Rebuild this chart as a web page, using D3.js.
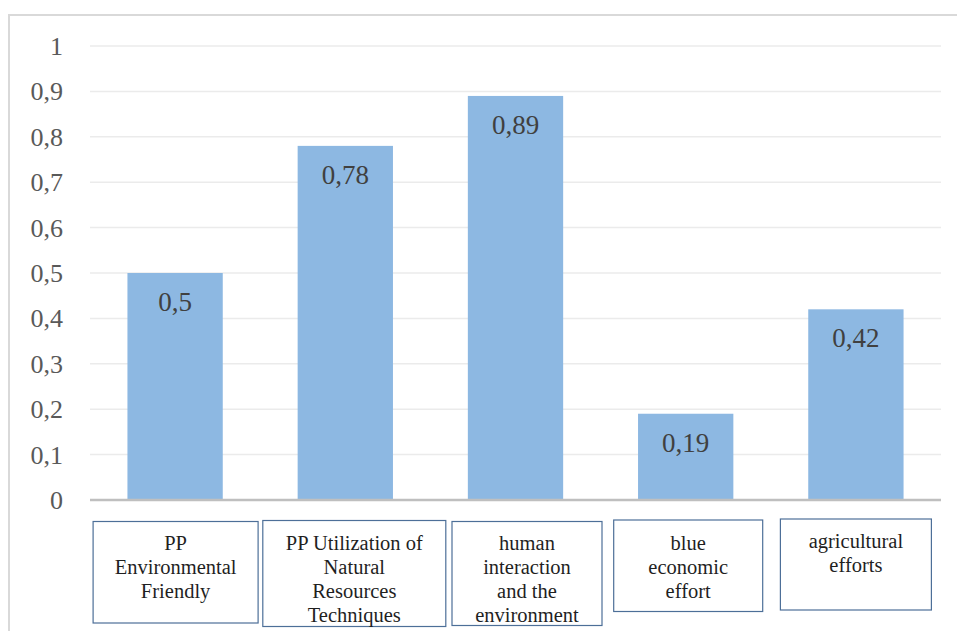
<!DOCTYPE html>
<html>
<head>
<meta charset="utf-8">
<script src="https://cdn.jsdelivr.net/npm/d3@7"></script>
<style>
  html, body { margin: 0; padding: 0; background: #fff; }
  svg { display: block; }
  svg text { font-family: "Liberation Serif", "Times New Roman", serif; }
</style>
</head>
<body>
<svg id="chart" width="957" height="631"></svg>
<script>
// Scores per indicator
const categories = [
  "PP Environmental Friendly",
  "PP Utilization of Natural Resources Techniques",
  "human interaction and the environment",
  "blue economic effort",
  "agricultural efforts"
];
const values = [0.5, 0.78, 0.89, 0.19, 0.42];
const yTicks = [0, 0.1, 0.2, 0.3, 0.4, 0.5, 0.6, 0.7, 0.8, 0.9, 1];

// Text shown in the boxed category captions, line by line
const captionLines = [
  ["PP", "Environmental", "Friendly"],
  ["PP Utilization of", "Natural", "Resources", "Techniques"],
  ["human", "interaction", "and the", "environment"],
  ["blue", "economic", "effort"],
  ["agricultural", "efforts"]
];

// Caption box geometry relative to each band centre (layout only)
const captionBoxes = [
  { dx: 0.5,  w: 165, top: 521.5, h: 101.5 },
  { dx: 9,    w: 183, top: 520.5, h: 106 },
  { dx: 11.5, w: 150, top: 521.5, h: 104 },
  { dx: 2.5,  w: 149, top: 520,   h: 91.5 },
  { dx: 0,    w: 151, top: 519,   h: 91 }
];

const svg = d3.select("#chart");
const margin = { left: 90, right: 16, top: 46, bottom: 131 };
const W = 957, H = 631;
const serif = "'Liberation Serif', 'Times New Roman', serif";
const fmt = v => String(v).replace(".", ",");

// Outer chart frame (light grey, runs off the right/bottom edges)
svg.append("path")
  .attr("d", `M9,${H + 5} L9,15 L${W + 5},15`)
  .attr("fill", "none")
  .attr("stroke", "#d9d9d9")
  .attr("stroke-width", 2);

const x = d3.scaleBand()
  .domain(categories)
  .range([margin.left, W - margin.right])
  .paddingInner(0.44)
  .paddingOuter(0.22);

const y = d3.scaleLinear()
  .domain([0, 1])
  .range([H - margin.bottom, margin.top]);

// Gridlines
svg.append("g")
  .selectAll("line")
  .data(yTicks.filter(t => t > 0))
  .join("line")
  .attr("x1", margin.left)
  .attr("x2", W - margin.right)
  .attr("y1", d => y(d))
  .attr("y2", d => y(d))
  .attr("stroke", "#ebebeb")
  .attr("stroke-width", 1.5);

// Y axis labels
const yAxis = d3.axisLeft(y).tickValues(yTicks).tickFormat(fmt).tickSize(0).tickPadding(0);
const yg = svg.append("g").attr("transform", `translate(63,0)`).call(yAxis);
yg.attr("font-family", serif);
yg.select(".domain").remove();
yg.selectAll("text")
  .style("font-family", serif)
  .attr("font-size", 26)
  .attr("fill", "#595959")
  .attr("dy", "0.33em");

// Bars
svg.append("g")
  .selectAll("rect")
  .data(values)
  .join("rect")
  .attr("x", (d, i) => x(categories[i]))
  .attr("width", x.bandwidth())
  .attr("y", d => y(d))
  .attr("height", d => y(0) - y(d))
  .attr("fill", "#8db8e2");

// Value labels inside the bar tops
svg.append("g")
  .selectAll("text")
  .data(values)
  .join("text")
  .attr("x", (d, i) => x(categories[i]) + x.bandwidth() / 2)
  .attr("y", d => y(d) + 38)
  .attr("text-anchor", "middle")
  .style("font-family", serif)
  .attr("font-size", 27)
  .attr("fill", "#404040")
  .text(fmt);

// X axis baseline
svg.append("line")
  .attr("x1", margin.left)
  .attr("x2", W - margin.right)
  .attr("y1", y(0))
  .attr("y2", y(0))
  .attr("stroke", "#bfbfbf")
  .attr("stroke-width", 2.5);

// Boxed category captions
const caps = svg.append("g")
  .selectAll("g")
  .data(categories)
  .join("g");

caps.append("rect")
  .attr("x", (c, i) => x(c) + x.bandwidth() / 2 + captionBoxes[i].dx - captionBoxes[i].w / 2)
  .attr("y", (c, i) => captionBoxes[i].top)
  .attr("width", (c, i) => captionBoxes[i].w)
  .attr("height", (c, i) => captionBoxes[i].h)
  .attr("fill", "#fff")
  .attr("stroke", "#4d6f98")
  .attr("stroke-width", 1.2);

caps.each(function (c, i) {
  const cx = x(c) + x.bandwidth() / 2 + captionBoxes[i].dx;
  const t = d3.select(this).append("text")
    .attr("text-anchor", "middle")
    .style("font-family", serif)
    .attr("font-size", 20.5)
    .attr("fill", "#1f1f1f");
  captionLines[i].forEach((line, k) => {
    t.append("tspan")
      .attr("x", cx)
      .attr("y", 549.5 + k * 24.3 - (i === 4 ? 1.5 : 0))
      .text(line);
  });
});
</script>
</body>
</html>
